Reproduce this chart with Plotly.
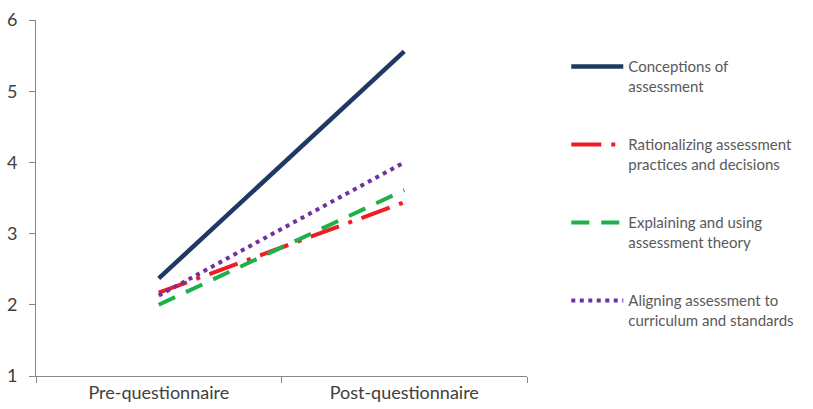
import plotly.graph_objects as go

categories = ["Pre-questionnaire", "Post-questionnaire"]
series_names = [
    "Conceptions of<br>assessment",
    "Rationalizing assessment<br>practices and decisions",
    "Explaining and using<br>assessment theory",
    "Aligning assessment to<br>curriculum and standards",
]
conceptions = [2.37, 5.56]
rationalizing = [2.17, 3.44]
explaining = [2.0, 3.61]
aligning = [2.13, 4.0]

colors = ["#1f3864", "#ee1c25", "#1fb04b", "#7030a0"]
dashes = ["solid", "30px,10px,4px,10px", "18px,12px", "4px,4.5px"]
widths = [4.5, 4, 4, 4]
values = [conceptions, rationalizing, explaining, aligning]

fig = go.Figure()
for i, (name, vals) in enumerate(zip(series_names, values)):
    fig.add_trace(go.Scatter(
        x=categories, y=vals, mode="lines", name=name,
        legendgroup=str(i),
        line=dict(color=colors[i], width=widths[i], dash=dashes[i]),
    ))

font = "Lato, 'Open Sans', sans-serif"
fig.update_layout(
    width=813, height=409,
    margin=dict(l=36, r=286, t=20, b=33),
    plot_bgcolor="white", paper_bgcolor="white",
    font=dict(family=font, size=15, color="#595959"),
    showlegend=True,
    legend=dict(x=1.08, y=0.915, xanchor="left", yanchor="top",
                traceorder="grouped", tracegroupgap=36, valign="top",
                itemwidth=52, font=dict(size=15, color="#595959")),
    xaxis=dict(type="category", range=[-0.5, 1.5], showline=True,
               linecolor="#868686", linewidth=1, ticks="outside",
               tickson="boundaries", ticklen=6, tickcolor="#868686",
               showgrid=False, automargin=False,
               tickfont=dict(size=18, color="#404040")),
    yaxis=dict(range=[1, 6], dtick=1, showline=True, linecolor="#868686",
               linewidth=1, ticks="outside", ticklen=6, tickcolor="#868686",
               showgrid=False, zeroline=False, automargin=False,
               ticklabelstandoff=8,
               tickfont=dict(size=18, color="#404040")),
)
fig.write_html("out.html", config={"displayModeBar": False},
               post_script="document.body.style.margin='0px';document.body.style.overflow='hidden';")
